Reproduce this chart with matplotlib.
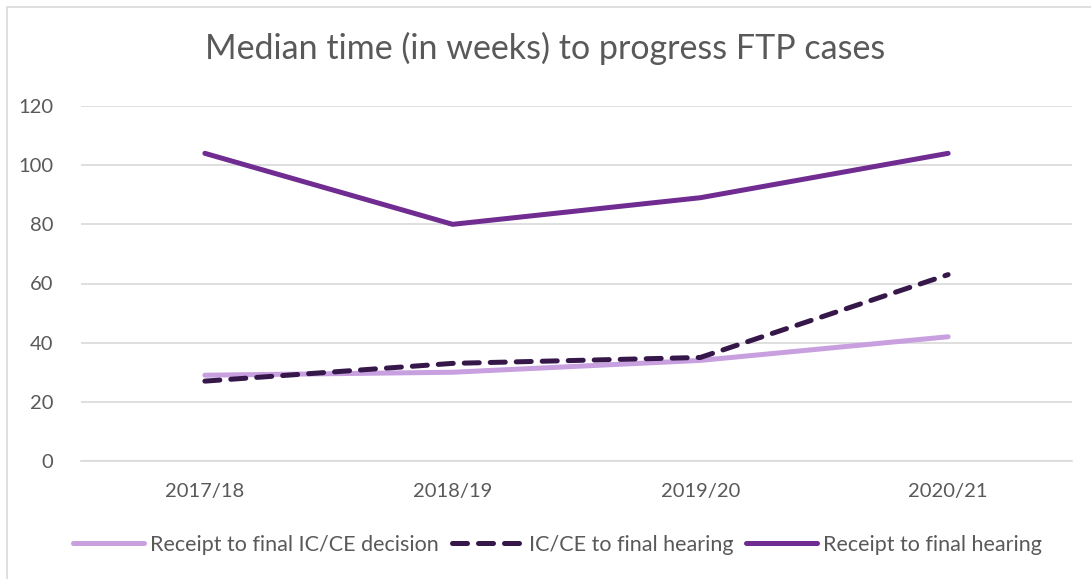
import matplotlib
matplotlib.use("Agg")
import matplotlib.pyplot as plt
from matplotlib.patches import Rectangle

categories = ["2017/18", "2018/19", "2019/20", "2020/21"]
receipt_to_ic = [29, 30, 34, 42]
ic_to_hearing = [27, 33, 35, 63]
receipt_to_hearing = [104, 80, 89, 104]
yticks = [0, 20, 40, 60, 80, 100, 120]

plt.rcParams['font.family'] = ['Lato', 'DejaVu Sans']
W, H = 1091, 579
fig = plt.figure(figsize=(W/100, H/100), dpi=100)
ax = fig.add_axes([81/W, 1-461/H, (1072-81)/W, (461-106)/H])

x = range(len(categories))
ax.plot(x, receipt_to_ic, color="#C8A0E0", lw=3.6, solid_capstyle='round',
        label="Receipt to final IC/CE decision", zorder=3)
ax.plot(x, ic_to_hearing, color="#35174A", lw=3.6, dashes=(3, 2.2),
        dash_capstyle='round', label="IC/CE to final hearing", zorder=4)
ax.plot(x, receipt_to_hearing, color="#702C91", lw=3.6, solid_capstyle='round',
        label="Receipt to final hearing", zorder=5)

ax.set_xlim(-0.5, len(categories)-0.5)
ax.set_ylim(0, 120)
ax.set_yticks(yticks)
ax.set_xticks(list(x))
ax.set_xticklabels(categories)
ax.grid(axis='y', color="#D9D9D9", lw=1.2)
ax.set_axisbelow(True)
for s in ['top', 'right', 'left']:
    ax.spines[s].set_visible(False)
ax.spines['bottom'].set_color("#D9D9D9")
ax.spines['bottom'].set_linewidth(1.2)
ax.tick_params(axis='both', length=0, labelsize=14.5, labelcolor="#595959")
ax.tick_params(axis='y', pad=20)
ax.tick_params(axis='x', pad=16)

fig.text(0.5, 1-48/H, "Median time (in weeks) to progress FTP cases",
         ha='center', va='center', fontsize=24.5, color="#595959")

leg = fig.legend(loc='center', bbox_to_anchor=(0.511, 1-545/H), ncol=3,
                 frameon=False, fontsize=15.5, handlelength=3.3,
                 columnspacing=0.6, handletextpad=0.28, labelcolor="#595959")

fig.patches.append(Rectangle((7/W, -0.1), 1.2, 1.1-7/H, transform=fig.transFigure,
                             fill=False, edgecolor="#D9D9D9", lw=1.2))

fig.savefig("out.png", dpi=100)
